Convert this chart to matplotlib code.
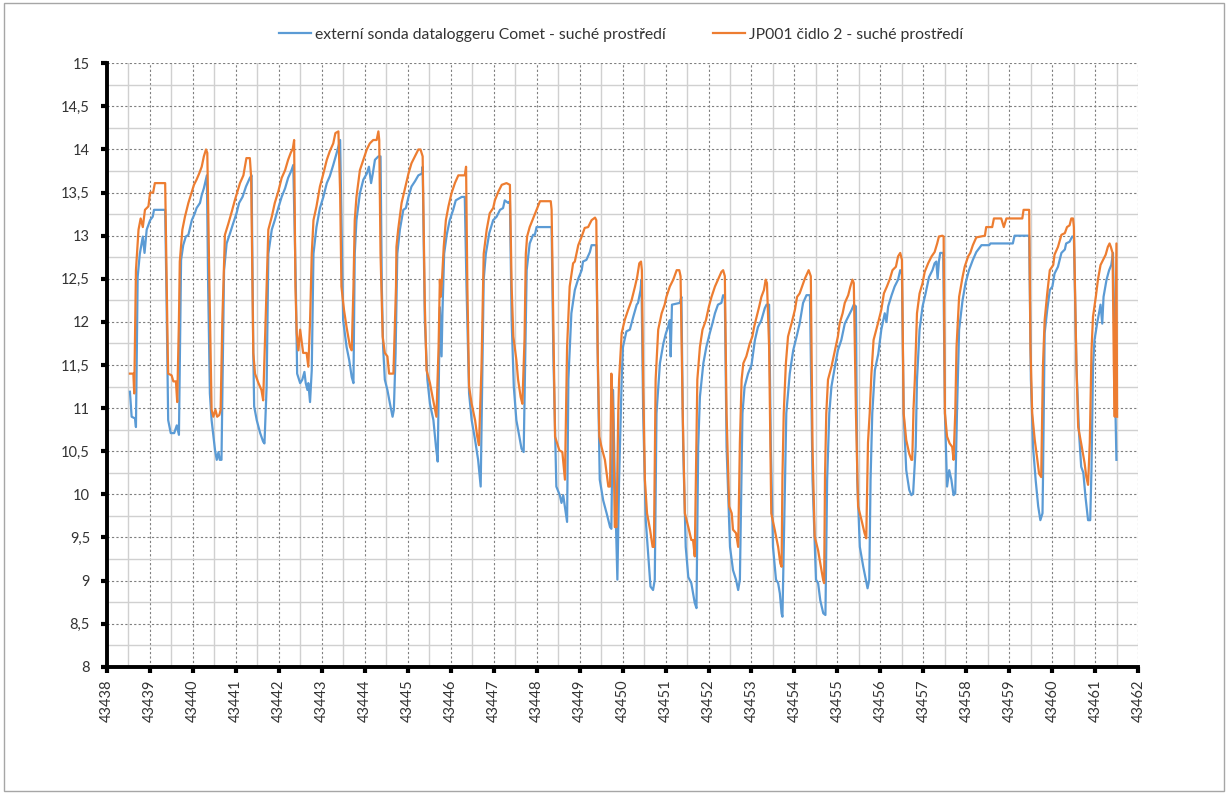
import matplotlib
matplotlib.use('Agg')
import matplotlib.pyplot as plt
import numpy as np
from matplotlib.patches import Rectangle
from matplotlib.ticker import FuncFormatter

plt.rcParams['font.family'] = ['Lato', 'DejaVu Sans']

# externí sonda dataloggeru Comet (time in Excel day numbers, temperature)
comet_t = [
    43438.54, 43438.58, 43438.66, 43438.68, 43438.72, 43438.77, 43438.84, 43438.88, 43438.93, 43439.01,
    43439.07, 43439.10, 43439.36, 43439.39, 43439.43, 43439.49, 43439.57, 43439.63, 43439.68,
    43439.73, 43439.78, 43439.84, 43439.90, 43439.98, 43440.05, 43440.09, 43440.17, 43440.21, 43440.26,
    43440.33, 43440.36, 43440.40, 43440.44, 43440.52, 43440.56, 43440.60, 43440.63, 43440.67,
    43440.73, 43440.79, 43440.87, 43440.94, 43441.02, 43441.08, 43441.16, 43441.24, 43441.33, 43441.37,
    43441.41, 43441.43, 43441.49, 43441.57, 43441.64, 43441.67,
    43441.72, 43441.76, 43441.84, 43441.91, 43441.99, 43442.07, 43442.15, 43442.22, 43442.30, 43442.34,
    43442.40, 43442.43, 43442.50, 43442.55, 43442.60, 43442.63, 43442.67, 43442.69, 43442.73,
    43442.77, 43442.81, 43442.88, 43442.96, 43443.04, 43443.12, 43443.19, 43443.27, 43443.35, 43443.43,
    43443.50, 43443.58, 43443.64, 43443.70, 43443.74,
    43443.77, 43443.81, 43443.89, 43443.97, 43444.05, 43444.10, 43444.15, 43444.19, 43444.24, 43444.32,
    43444.37, 43444.40, 43444.43, 43444.47, 43444.53, 43444.59, 43444.65, 43444.68,
    43444.72, 43444.76, 43444.82, 43444.90, 43444.96, 43445.02, 43445.09, 43445.17, 43445.25, 43445.33,
    43445.35, 43445.40, 43445.46, 43445.52, 43445.60, 43445.66, 43445.70,
    43445.75, 43445.79, 43445.81, 43445.85, 43445.91, 43445.98, 43446.06, 43446.12, 43446.26, 43446.33,
    43446.37, 43446.43, 43446.49, 43446.57, 43446.64, 43446.70,
    43446.77, 43446.82, 43446.90, 43446.99, 43447.07, 43447.15, 43447.22, 43447.26, 43447.34, 43447.38,
    43447.42, 43447.47, 43447.53, 43447.60, 43447.65, 43447.70,
    43447.77, 43447.84, 43447.92, 43447.96, 43448.00, 43448.35, 43448.39, 43448.46, 43448.54, 43448.58,
    43448.62, 43448.66, 43448.71,
    43448.74, 43448.81, 43448.89, 43448.97, 43449.05, 43449.08, 43449.16, 43449.24, 43449.28, 43449.39,
    43449.43, 43449.47, 43449.55, 43449.63, 43449.71, 43449.74, 43449.78, 43449.82, 43449.88,
    43449.92, 43449.98, 43450.01, 43450.09, 43450.17, 43450.25, 43450.33, 43450.36, 43450.42, 43450.44,
    43450.48, 43450.54, 43450.60, 43450.65, 43450.71, 43450.75,
    43450.79, 43450.87, 43450.95, 43451.01, 43451.06, 43451.10, 43451.12, 43451.15, 43451.33, 43451.37,
    43451.41, 43451.47, 43451.53, 43451.60, 43451.68, 43451.72,
    43451.76, 43451.80, 43451.88, 43451.95, 43452.03, 43452.09, 43452.15, 43452.22, 43452.30, 43452.34,
    43452.38, 43452.42, 43452.50, 43452.57, 43452.64, 43452.69, 43452.73,
    43452.79, 43452.84, 43452.92, 43453.00, 43453.08, 43453.15, 43453.23, 43453.31, 43453.35, 43453.41,
    43453.45, 43453.50, 43453.57, 43453.62, 43453.66, 43453.70, 43453.72,
    43453.78, 43453.81, 43453.89, 43453.97, 43454.05, 43454.12, 43454.20, 43454.28, 43454.36,
    43454.42, 43454.50, 43454.55, 43454.60, 43454.67, 43454.72,
    43454.76, 43454.81, 43454.86, 43454.94, 43455.01, 43455.09, 43455.17, 43455.25, 43455.33, 43455.38,
    43455.43, 43455.46, 43455.52, 43455.60, 43455.66, 43455.70, 43455.74,
    43455.77, 43455.81, 43455.87, 43455.95, 43456.02, 43456.10, 43456.14, 43456.18, 43456.26, 43456.33,
    43456.41, 43456.46, 43456.50, 43456.54, 43456.60, 43456.67, 43456.72, 43456.76,
    43456.82, 43456.85, 43456.91, 43456.98, 43457.05, 43457.13, 43457.21, 43457.26, 43457.30, 43457.33,
    43457.36, 43457.39, 43457.46, 43457.50, 43457.55, 43457.60, 43457.65, 43457.70, 43457.74,
    43457.78, 43457.83, 43457.91, 43457.98, 43458.06, 43458.15, 43458.23, 43458.35, 43458.53, 43458.56,
    43459.08, 43459.12, 43459.46, 43459.50, 43459.55, 43459.61, 43459.67, 43459.72, 43459.77,
    43459.78, 43459.82, 43459.88, 43459.94, 43460.00, 43460.05, 43460.13, 43460.21, 43460.29, 43460.32,
    43460.40, 43460.46, 43460.50, 43460.56, 43460.62, 43460.67, 43460.72, 43460.77, 43460.83, 43460.88,
    43460.91, 43460.945, 43460.98, 43461.04, 43461.10, 43461.12, 43461.16, 43461.19, 43461.26, 43461.32,
    43461.37, 43461.41, 43461.43, 43461.47, 43461.49,
]
comet_v = [
    11.19, 10.90, 10.88, 10.78, 12.52, 12.79, 12.99, 12.80, 13.07, 13.18,
    13.22, 13.30, 13.30, 12.33, 10.86, 10.71, 10.71, 10.80, 10.69,
    12.72, 12.89, 12.99, 13.01, 13.18, 13.26, 13.32, 13.38, 13.47, 13.55,
    13.70, 12.41, 11.17, 10.86, 10.51, 10.40, 10.49, 10.40, 10.40,
    12.60, 12.91, 13.03, 13.14, 13.26, 13.38, 13.45, 13.57, 13.67, 13.70,
    11.64, 11.02, 10.86, 10.71, 10.61, 10.59,
    11.25, 12.79, 13.07, 13.18, 13.32, 13.45, 13.55, 13.67, 13.76, 13.82,
    12.41, 11.40, 11.29, 11.33, 11.42, 11.29, 11.21, 11.29, 11.07,
    11.44, 12.79, 13.10, 13.32, 13.45, 13.61, 13.69, 13.82, 13.96, 14.11,
    12.02, 11.71, 11.56, 11.36, 11.29,
    12.79, 13.18, 13.49, 13.65, 13.72, 13.80, 13.61, 13.72, 13.88, 13.92,
    13.92, 12.41, 11.71, 11.33, 11.21, 11.05, 10.90, 10.98,
    11.63, 12.79, 13.07, 13.30, 13.32, 13.45, 13.57, 13.63, 13.70, 13.72,
    13.80, 12.02, 11.33, 11.05, 10.86, 10.55, 10.38,
    12.17, 11.60, 12.10, 12.79, 13.01, 13.18, 13.30, 13.41, 13.45, 13.45,
    12.41, 11.17, 10.86, 10.63, 10.40, 10.09,
    12.49, 12.79, 13.03, 13.18, 13.22, 13.30, 13.32, 13.41, 13.38, 13.40,
    12.02, 11.25, 10.86, 10.67, 10.53, 10.49,
    12.60, 12.91, 13.01, 13.01, 13.10, 13.10, 11.63, 10.09, 9.99, 9.90,
    9.99, 9.85, 9.68,
    11.33, 12.10, 12.37, 12.50, 12.60, 12.70, 12.72, 12.81, 12.89, 12.89,
    11.33, 10.17, 9.93, 9.78, 9.62, 9.60, 11.21, 10.17, 9.01,
    10.17, 11.33, 11.71, 11.89, 11.91, 12.06, 12.20, 12.22, 12.37, 12.49,
    10.94, 9.70, 9.28, 8.93, 8.89, 9.01,
    10.94, 11.52, 11.75, 11.87, 11.94, 12.02, 11.60, 12.20, 12.22, 12.29,
    10.55, 9.39, 9.04, 8.97, 8.74, 8.68,
    10.55, 11.13, 11.52, 11.71, 11.87, 11.98, 12.10, 12.20, 12.22, 12.31,
    12.29, 10.55, 9.39, 9.12, 9.01, 8.89, 9.01,
    10.94, 11.25, 11.40, 11.50, 11.79, 11.94, 12.02, 12.16, 12.20, 12.20,
    10.55, 9.39, 9.01, 8.97, 8.85, 8.62, 8.58,
    10.17, 10.94, 11.40, 11.67, 11.83, 11.98, 12.22, 12.31, 12.31,
    10.17, 9.01, 8.97, 8.77, 8.62, 8.60,
    10.17, 10.94, 11.25, 11.48, 11.67, 11.79, 11.98, 12.06, 12.14, 12.20,
    12.18, 10.17, 9.39, 9.16, 9.01, 8.91, 9.01,
    10.17, 10.94, 11.44, 11.63, 11.91, 12.10, 12.00, 12.18, 12.31, 12.41,
    12.49, 12.60, 12.56, 10.94, 10.28, 10.05, 9.99, 10.01,
    10.55, 11.33, 11.91, 12.18, 12.33, 12.52, 12.60, 12.68, 12.70, 12.50,
    12.70, 12.80, 12.80, 10.94, 10.09, 10.28, 10.17, 9.99, 10.01,
    10.94, 11.91, 12.25, 12.45, 12.60, 12.72, 12.81, 12.89, 12.89, 12.91,
    12.91, 13.00, 13.00, 11.33, 10.55, 10.17, 9.86, 9.70, 9.78,
    10.13, 11.87, 12.14, 12.37, 12.41, 12.56, 12.64, 12.80, 12.84, 12.91,
    12.93, 12.99, 12.99, 11.48, 10.71, 10.32, 10.25, 9.97, 9.70, 9.70,
    10.30, 11.48, 11.79, 11.98, 12.14, 12.20, 11.98, 12.29, 12.49, 12.60,
    12.66, 12.80, 12.25, 10.90, 10.40,
]

# JP001 čidlo 2
jp_t = [
    43438.54, 43438.62, 43438.64, 43438.68, 43438.74, 43438.79, 43438.84, 43438.89, 43438.97, 43439.01,
    43439.08, 43439.12, 43439.36, 43439.42, 43439.43, 43439.51, 43439.55, 43439.61, 43439.64,
    43439.68, 43439.70, 43439.76, 43439.82, 43439.90, 43439.98, 43440.03, 43440.09, 43440.15, 43440.21,
    43440.26, 43440.31, 43440.34, 43440.39, 43440.44, 43440.48, 43440.53, 43440.57, 43440.62, 43440.65,
    43440.69, 43440.75, 43440.83, 43440.91, 43440.98, 43441.04, 43441.10, 43441.18, 43441.25, 43441.33,
    43441.36, 43441.41, 43441.45, 43441.53, 43441.60, 43441.64,
    43441.72, 43441.76, 43441.84, 43441.91, 43441.99, 43442.07, 43442.15, 43442.22, 43442.28, 43442.33,
    43442.36, 43442.39, 43442.42, 43442.46, 43442.50, 43442.53, 43442.57, 43442.65, 43442.69,
    43442.73, 43442.77, 43442.81, 43442.88, 43442.96, 43443.04, 43443.12, 43443.19, 43443.27, 43443.32,
    43443.39, 43443.43, 43443.46, 43443.52, 43443.58, 43443.66, 43443.70,
    43443.74, 43443.77, 43443.81, 43443.89, 43443.97, 43444.05, 43444.12, 43444.20, 43444.28, 43444.32,
    43444.34, 43444.37, 43444.42, 43444.47, 43444.53, 43444.57, 43444.67,
    43444.73, 43444.74, 43444.78, 43444.86, 43444.94, 43445.02, 43445.09, 43445.17, 43445.25, 43445.30,
    43445.35, 43445.40, 43445.44, 43445.52, 43445.58, 43445.64, 43445.67,
    43445.72, 43445.75, 43445.77, 43445.80, 43445.84, 43445.89, 43445.95, 43446.02, 43446.10, 43446.18,
    43446.33, 43446.36, 43446.39, 43446.43, 43446.49, 43446.57, 43446.62, 43446.66,
    43446.72, 43446.77, 43446.84, 43446.91, 43446.99, 43447.03, 43447.11, 43447.19, 43447.30, 43447.38,
    43447.42, 43447.46, 43447.53, 43447.57, 43447.63, 43447.67,
    43447.72, 43447.75, 43447.78, 43447.84, 43447.92, 43448.00, 43448.08, 43448.33, 43448.35,
    43448.39, 43448.43, 43448.53, 43448.60, 43448.66,
    43448.71, 43448.77, 43448.85, 43448.89, 43448.97, 43449.05, 43449.12, 43449.20, 43449.28, 43449.36,
    43449.39, 43449.42, 43449.46, 43449.51, 43449.59, 43449.67, 43449.71, 43449.74, 43449.78, 43449.82,
    43449.86,
    43449.90, 43449.92, 43449.98, 43450.05, 43450.13, 43450.21, 43450.29, 43450.34, 43450.39, 43450.43,
    43450.45, 43450.48, 43450.52, 43450.57, 43450.64, 43450.70, 43450.73,
    43450.77, 43450.83, 43450.91, 43450.98, 43451.02, 43451.10, 43451.18, 43451.26, 43451.32, 43451.35,
    43451.40, 43451.45, 43451.53, 43451.60, 43451.64, 43451.68,
    43451.72, 43451.74, 43451.80, 43451.86, 43451.94, 43452.01, 43452.07, 43452.15, 43452.22, 43452.30,
    43452.34, 43452.38, 43452.42, 43452.48, 43452.54, 43452.57, 43452.64, 43452.69,
    43452.73, 43452.77, 43452.81, 43452.88, 43452.96, 43453.02, 43453.06, 43453.12, 43453.18, 43453.23,
    43453.29, 43453.33, 43453.36, 43453.41, 43453.46, 43453.54, 43453.62, 43453.67, 43453.70,
    43453.72, 43453.75, 43453.80, 43453.85, 43453.93, 43454.01, 43454.06, 43454.12, 43454.24, 43454.33,
    43454.38, 43454.42, 43454.47, 43454.55, 43454.60, 43454.67, 43454.69,
    43454.71, 43454.74, 43454.78, 43454.86, 43454.94, 43455.01, 43455.05, 43455.12, 43455.17, 43455.25,
    43455.30, 43455.35, 43455.38, 43455.43, 43455.48, 43455.56, 43455.63, 43455.67,
    43455.71, 43455.75, 43455.79, 43455.84, 43455.94, 43456.02, 43456.08, 43456.15, 43456.22, 43456.28,
    43456.36, 43456.41, 43456.46, 43456.50, 43456.54, 43456.60, 43456.67, 43456.72, 43456.74,
    43456.77, 43456.80, 43456.85, 43456.91, 43456.98, 43457.03, 43457.11, 43457.19, 43457.26, 43457.32,
    43457.36, 43457.44, 43457.47, 43457.50, 43457.55, 43457.61, 43457.67, 43457.70,
    43457.74, 43457.77, 43457.83, 43457.91, 43457.96, 43458.04, 43458.09, 43458.15, 43458.23, 43458.43,
    43458.46, 43458.60, 43458.64, 43458.81, 43458.87, 43458.93, 43459.30, 43459.33, 43459.46,
    43459.49, 43459.53, 43459.59, 43459.64, 43459.69, 43459.74,
    43459.78, 43459.82, 43459.88, 43459.94, 43460.02, 43460.05, 43460.13, 43460.21, 43460.29, 43460.34,
    43460.40, 43460.44, 43460.48, 43460.50, 43460.56, 43460.60, 43460.67, 43460.75, 43460.79, 43460.83,
    43460.87, 43460.91, 43460.945, 43461.01, 43461.06, 43461.12, 43461.18, 43461.24, 43461.29, 43461.33,
    43461.36, 43461.40, 43461.43, 43461.45, 43461.49, 43461.505,
]
jp_v = [
    11.40, 11.40, 11.17, 12.60, 13.07, 13.20, 13.10, 13.30, 13.34, 13.50,
    13.50, 13.61, 13.61, 11.64, 11.40, 11.38, 11.31, 11.31, 11.07,
    12.02, 12.70, 13.07, 13.22, 13.38, 13.51, 13.59, 13.65, 13.72, 13.80,
    13.92, 14.00, 13.96, 12.41, 10.98, 10.90, 10.98, 10.90, 10.92, 10.98,
    12.02, 13.01, 13.14, 13.28, 13.41, 13.51, 13.61, 13.70, 13.90, 13.90,
    13.68, 11.64, 11.40, 11.29, 11.21, 11.09,
    12.41, 13.07, 13.22, 13.38, 13.51, 13.67, 13.76, 13.88, 13.96, 14.01,
    14.11, 12.41, 11.87, 11.67, 11.91, 11.79, 11.64, 11.64, 11.48,
    12.00, 12.79, 13.18, 13.34, 13.57, 13.72, 13.88, 13.98, 14.07, 14.19,
    14.21, 13.50, 12.41, 12.14, 11.94, 11.71, 11.67,
    12.40, 13.18, 13.45, 13.76, 13.88, 14.00, 14.07, 14.11, 14.11, 14.21,
    14.11, 12.79, 11.83, 11.64, 11.60, 11.40, 11.40,
    12.41, 12.87, 13.07, 13.38, 13.55, 13.72, 13.84, 13.92, 14.00, 14.00,
    13.92, 12.21, 11.44, 11.29, 11.13, 10.98, 10.90,
    11.70, 12.49, 12.29, 12.49, 12.87, 13.18, 13.34, 13.49, 13.61, 13.70,
    13.70, 13.80, 12.41, 11.25, 11.05, 10.86, 10.67, 10.57,
    11.50, 12.79, 13.07, 13.26, 13.32, 13.41, 13.51, 13.59, 13.61, 13.59,
    12.41, 11.83, 11.56, 11.33, 11.13, 11.05,
    11.80, 12.79, 12.99, 13.10, 13.20, 13.30, 13.40, 13.40, 13.30,
    12.00, 10.67, 10.51, 10.49, 10.17,
    11.71, 12.41, 12.68, 12.70, 12.89, 12.99, 13.09, 13.10, 13.18, 13.21,
    13.18, 11.71, 10.67, 10.55, 10.40, 10.09, 10.09, 11.40, 10.94, 9.62,
    9.62,
    10.94, 11.33, 11.87, 12.02, 12.14, 12.25, 12.41, 12.52, 12.68, 12.70,
    12.60, 11.33, 10.17, 9.78, 9.59, 9.39, 9.39,
    11.33, 11.91, 12.10, 12.20, 12.29, 12.41, 12.49, 12.60, 12.60, 12.53,
    10.94, 9.78, 9.62, 9.47, 9.47, 9.28,
    10.60, 11.33, 11.71, 11.91, 12.02, 12.18, 12.29, 12.41, 12.49, 12.58,
    12.60, 12.53, 10.94, 9.86, 9.78, 9.59, 9.55, 9.39,
    10.60, 11.33, 11.52, 11.60, 11.75, 11.83, 11.94, 12.06, 12.18, 12.29,
    12.37, 12.49, 12.45, 11.71, 9.78, 9.59, 9.39, 9.20, 9.16,
    10.20, 10.94, 11.52, 11.83, 11.98, 12.14, 12.29, 12.33, 12.50, 12.60,
    12.53, 10.55, 9.51, 9.35, 9.20, 9.00, 8.97,
    10.20, 10.94, 11.33, 11.48, 11.67, 11.83, 11.98, 12.10, 12.22, 12.31,
    12.41, 12.49, 12.45, 10.94, 9.86, 9.70, 9.55, 9.49,
    10.60, 10.94, 11.40, 11.79, 11.98, 12.14, 12.33, 12.41, 12.50, 12.60,
    12.64, 12.76, 12.80, 12.72, 10.94, 10.63, 10.47, 10.40, 10.40,
    11.00, 11.33, 12.10, 12.33, 12.45, 12.58, 12.68, 12.76, 12.81, 12.91,
    12.99, 13.00, 12.99, 10.94, 10.67, 10.59, 10.55, 10.40,
    10.94, 11.71, 12.29, 12.52, 12.64, 12.76, 12.80, 12.89, 12.98, 13.00,
    13.10, 13.10, 13.20, 13.20, 13.10, 13.20, 13.20, 13.30, 13.30,
    11.71, 10.94, 10.63, 10.44, 10.24, 10.20,
    11.48, 12.02, 12.33, 12.60, 12.66, 12.78, 12.87, 13.01, 13.03, 13.10,
    13.12, 13.20, 13.20, 13.10, 11.48, 10.78, 10.59, 10.36, 10.20, 10.11,
    10.60, 11.67, 12.06, 12.29, 12.49, 12.66, 12.72, 12.78, 12.87, 12.91,
    12.87, 12.80, 11.48, 10.90, 12.91, 10.90,
]

label_comet = 'externí sonda dataloggeru Comet - suché prostředí'
label_jp = 'JP001 čidlo 2 - suché prostředí'

x_ticks = np.arange(43438, 43463)
y_ticks = np.arange(8, 15.01, 0.5)

fig = plt.figure(figsize=(12.28, 7.94), dpi=100)
ax = fig.add_axes([0.0869, 0.1603, 0.8401, 0.7600])

ax.plot(comet_t, comet_v, color='#5B9BD5', lw=1.6, label=label_comet, zorder=3)
ax.plot(jp_t, jp_v, color='#ED7D31', lw=1.6, label=label_jp, zorder=4)

ax.set_xlim(43438, 43462)
ax.set_ylim(8, 15)
ax.set_xticks(x_ticks)
ax.set_xticks(x_ticks[:-1] + 0.5, minor=True)
ax.set_yticks(y_ticks)
ax.set_yticks(y_ticks[:-1] + 0.25, minor=True)
ax.yaxis.set_major_formatter(FuncFormatter(lambda v, p: ('%g' % v).replace('.', ',')))
ax.xaxis.set_major_formatter(FuncFormatter(lambda v, p: '%d' % v))

# gridlines: dashed major, light solid minor
ax.grid(which='major', color='#7f7f7f', linestyle=(0, (2, 2)), lw=0.8, zorder=1)
ax.grid(which='minor', color='#d0d0d0', linestyle='-', lw=1.0, zorder=0)
ax.set_axisbelow(True)

for side in ['top', 'right']:
    ax.spines[side].set_visible(False)
for side in ['left', 'bottom']:
    ax.spines[side].set_linewidth(2.8)
    ax.spines[side].set_color('black')
    ax.spines[side].set_zorder(5)

ax.tick_params(which='major', direction='out', length=4, width=3, color='black',
               labelsize=10.5, labelcolor='#333333', pad=5)
ax.tick_params(which='minor', length=0)
ax.tick_params(axis='y', pad=8)
for lab in ax.get_xticklabels():
    lab.set_rotation(90)

fig.legend(loc='center', bbox_to_anchor=(0.506, 0.956), ncol=2, frameon=False,
           fontsize=11.3, handlelength=2.0, handletextpad=0.3, columnspacing=3.0,
           labelcolor='#333333')

fig.patches.append(Rectangle((0.003, 0.004), 0.994, 0.992, transform=fig.transFigure,
                             fill=False, edgecolor='#a6a6a6', lw=1))

fig.savefig('out.png', dpi=100)
